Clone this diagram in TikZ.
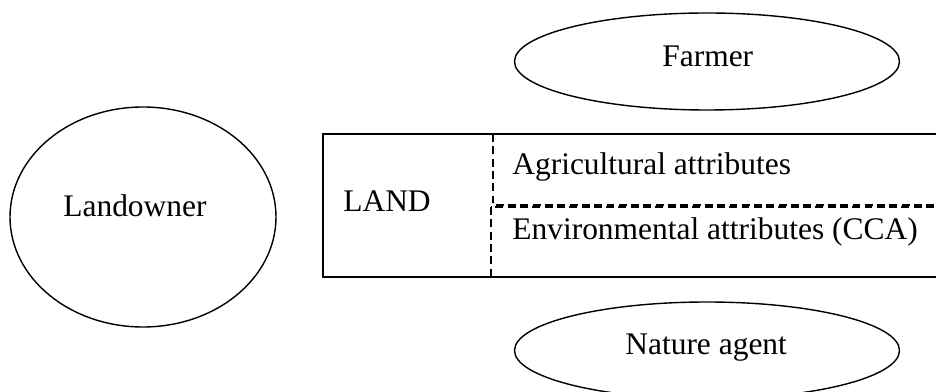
\documentclass[tikz,border=0pt]{standalone}
\usepackage{fontspec}
\setmainfont{Liberation Serif}
\usetikzlibrary{shapes.geometric}
\definecolor{black}{RGB}{0,0,0}
\tikzset{
	actor/.style={draw,ellipse,line width=0.8pt,inner sep=0pt},
	lbl/.style={anchor=base west,inner sep=0pt,font=\fontsize{17.9}{21}\selectfont},
	attrbox/.style={draw,line width=0.8pt,dash pattern=on 4.5pt off 2.5pt}
}

\begin{document}
\begin{tikzpicture}[x=0.2mm,y=-0.2mm]
	\useasboundingbox (0,0) rectangle (936,392);
	\clip (0,0) rectangle (936,392);
	% actors
	\node[actor,minimum width=5.32cm,minimum height=4.4cm] (owner) at (143,217) {};
	\node[actor,minimum width=7.7cm,minimum height=1.94cm] (farmer) at (707,61.5) {};
	\node[actor,minimum width=7.7cm,minimum height=1.94cm] (nature) at (707,350.5) {};
	\node[lbl] (ownertxt) at (63,217) {Landowner};
	\node[lbl] (farmertxt) at (662,67) {Farmer};
	\node[lbl] (naturetxt) at (625,355) {Nature agent};
	% land
	\draw[line width=0.8pt] (323,134) rectangle (950,277);
	\draw[attrbox] (493,134) rectangle (950,205);
	\draw[attrbox] (491,207) rectangle (950,277);
	\node[lbl] (land) at (343,212) {LAND};
	\node[lbl] (agri) at (512,175) {Agricultural attributes};
	\node[lbl] (env) at (512,240) {Environmental attributes (CCA)};
\end{tikzpicture}
\end{document}
